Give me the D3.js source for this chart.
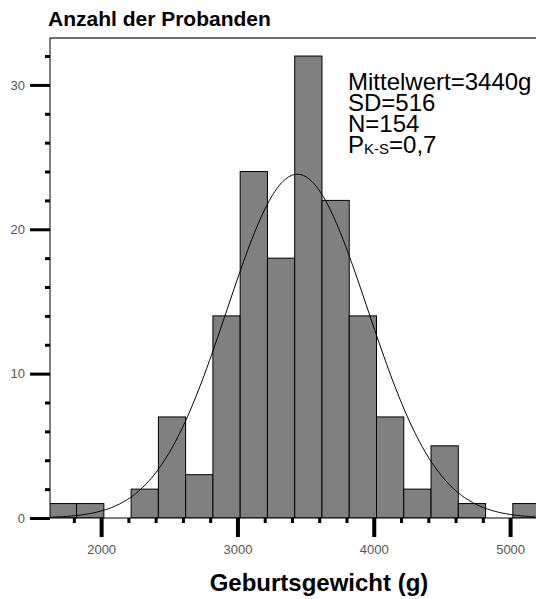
<!DOCTYPE html>
<html>
<head>
<meta charset="utf-8">
<script src="https://cdn.jsdelivr.net/npm/d3@7"></script>
<style>
    body { margin: 0; background: #fff; }
    svg { display: block; font-family: "Liberation Sans", Arial, sans-serif; }
</style>
</head>
<body>
<div class="histogram"></div>
<script>
// lower edge of each 200 g bin and how many babies fell into it
const binStarts = [1620, 1820, 2020, 2220, 2420, 2620, 2820, 3020, 3220, 3420, 3620, 3820, 4020, 4220, 4420, 4620, 4820, 5020];
const counts    = [1, 1, 0, 2, 7, 3, 14, 24, 18, 32, 22, 14, 7, 2, 5, 1, 0, 1];
const binWidth = 200;

const xTicks = [2000, 3000, 4000, 5000];
const yTicks = [0, 10, 20, 30];

const mean = 3440;
const sd = 516;
const n = 154;
const statLines = ["Mittelwert=3440g", "SD=516", "N=154"];

const width = 536;
const height = 599;
const plotLeft = 50, plotRight = 536, plotTop = 38, plotBottom = 518;

const svg = d3.select(".histogram").append("svg")
    .attr("width", width)
    .attr("height", height);

/* Scale */
const x = d3.scaleLinear()
    .domain([1625, 5190])
    .range([plotLeft, plotRight]);

const y = d3.scaleLinear()
    .domain([0, 33.25])
    .range([plotBottom, plotTop]);

svg.append("clipPath")
    .attr("id", "plot-clip")
    .append("rect")
    .attr("x", plotLeft)
    .attr("y", plotTop - 1)
    .attr("width", plotRight - plotLeft)
    .attr("height", plotBottom - plotTop + 1);

const plot = svg.append("g")
    .attr("clip-path", "url(#plot-clip)");

/* Bars */
const bins = binStarts.map((lo, i) => ({lo: lo, count: counts[i]}))
    .filter(d => d.count > 0);

plot.selectAll("rect.bar")
    .data(bins).enter()
    .append("rect")
    .attr("class", "bar")
    .attr("x", d => x(d.lo))
    .attr("y", d => y(d.count))
    .attr("width", d => x(d.lo + binWidth) - x(d.lo))
    .attr("height", d => y(0) - y(d.count))
    .style("fill", "#808080")
    .style("stroke", "#000")
    .style("stroke-width", 1);

/* Normal curve, scaled to counts per bin */
const peak = n * binWidth / (sd * Math.sqrt(2 * Math.PI));
const curveXs = d3.range(x.domain()[0], x.domain()[1], 10);
const line = d3.line()
    .x(d => x(d))
    .y(d => y(peak * Math.exp(-0.5 * Math.pow((d - mean) / sd, 2))));

plot.append("path")
    .datum(curveXs)
    .attr("d", line)
    .style("fill", "none")
    .style("stroke", "#000")
    .style("stroke-width", 1);

/* Frame */
svg.append("line")
    .attr("x1", plotLeft).attr("x2", plotRight)
    .attr("y1", plotTop).attr("y2", plotTop)
    .style("stroke", "#707070")
    .style("stroke-width", 2);

svg.append("line")
    .attr("x1", plotLeft).attr("x2", plotLeft)
    .attr("y1", plotTop).attr("y2", plotBottom)
    .style("stroke", "#000")
    .style("stroke-width", 1);

svg.append("line")
    .attr("x1", plotLeft).attr("x2", plotRight)
    .attr("y1", plotBottom).attr("y2", plotBottom)
    .style("stroke", "#000")
    .style("stroke-width", 1);

/* Axes */
const xMinor = d3.range(1800, 5001, 200).filter(v => !xTicks.includes(v));
const yMinor = d3.range(2, 33, 2).filter(v => !yTicks.includes(v));

const xMinorAxis = svg.append("g")
    .attr("transform", `translate(0, ${plotBottom})`)
    .call(d3.axisBottom(x).tickValues(xMinor).tickSize(5).tickFormat(""));
xMinorAxis.selectAll("line").style("stroke", "#000").style("stroke-width", 3);

const xAxis = svg.append("g")
    .attr("transform", `translate(0, ${plotBottom})`)
    .call(d3.axisBottom(x).tickValues(xTicks).tickSize(19).tickFormat(d3.format("d")));
xAxis.selectAll("line").style("stroke", "#000").style("stroke-width", 4);
xAxis.selectAll("text")
    .attr("y", 36)
    .attr("dy", 0)
    .style("font-size", "13px")
    .style("fill", "#555");

const yMinorAxis = svg.append("g")
    .attr("transform", `translate(${plotLeft}, 0)`)
    .call(d3.axisLeft(y).tickValues(yMinor).tickSize(5).tickFormat(""));
yMinorAxis.selectAll("line").style("stroke", "#000").style("stroke-width", 3);

const yAxis = svg.append("g")
    .attr("transform", `translate(${plotLeft}, 0)`)
    .call(d3.axisLeft(y).tickValues(yTicks).tickSize(20).tickFormat(d3.format("d")));
yAxis.selectAll("line").style("stroke", "#000").style("stroke-width", 3);
yAxis.selectAll("text")
    .attr("x", -25)
    .style("font-size", "13px")
    .style("fill", "#555");

svg.selectAll(".domain").remove();

/* Texts */
svg.append("text")
    .attr("x", 48)
    .attr("y", 26)
    .style("font-size", "21px")
    .style("font-weight", "bold")
    .style("fill", "#000")
    .text("Anzahl der Probanden");

svg.append("text")
    .attr("x", 319)
    .attr("y", 591)
    .attr("text-anchor", "middle")
    .style("font-size", "24px")
    .style("font-weight", "bold")
    .style("fill", "#000")
    .text("Geburtsgewicht (g)");

const stats = svg.append("g")
    .style("font-size", "24px")
    .style("fill", "#000");

const lineStep = 21;

stats.selectAll("text.stat")
    .data(statLines).enter()
    .append("text")
    .attr("class", "stat")
    .attr("x", 348)
    .attr("y", (d, i) => 90 + i * lineStep)
    .text(d => d);

const pText = stats.append("text")
    .attr("x", 348)
    .attr("y", 90 + 3 * lineStep);
pText.append("tspan").text("P");
pText.append("tspan").style("font-size", "15px").attr("dy", 1).text("K-S");
pText.append("tspan").attr("dy", -1).text("=0,7");
</script>
</body>
</html>
